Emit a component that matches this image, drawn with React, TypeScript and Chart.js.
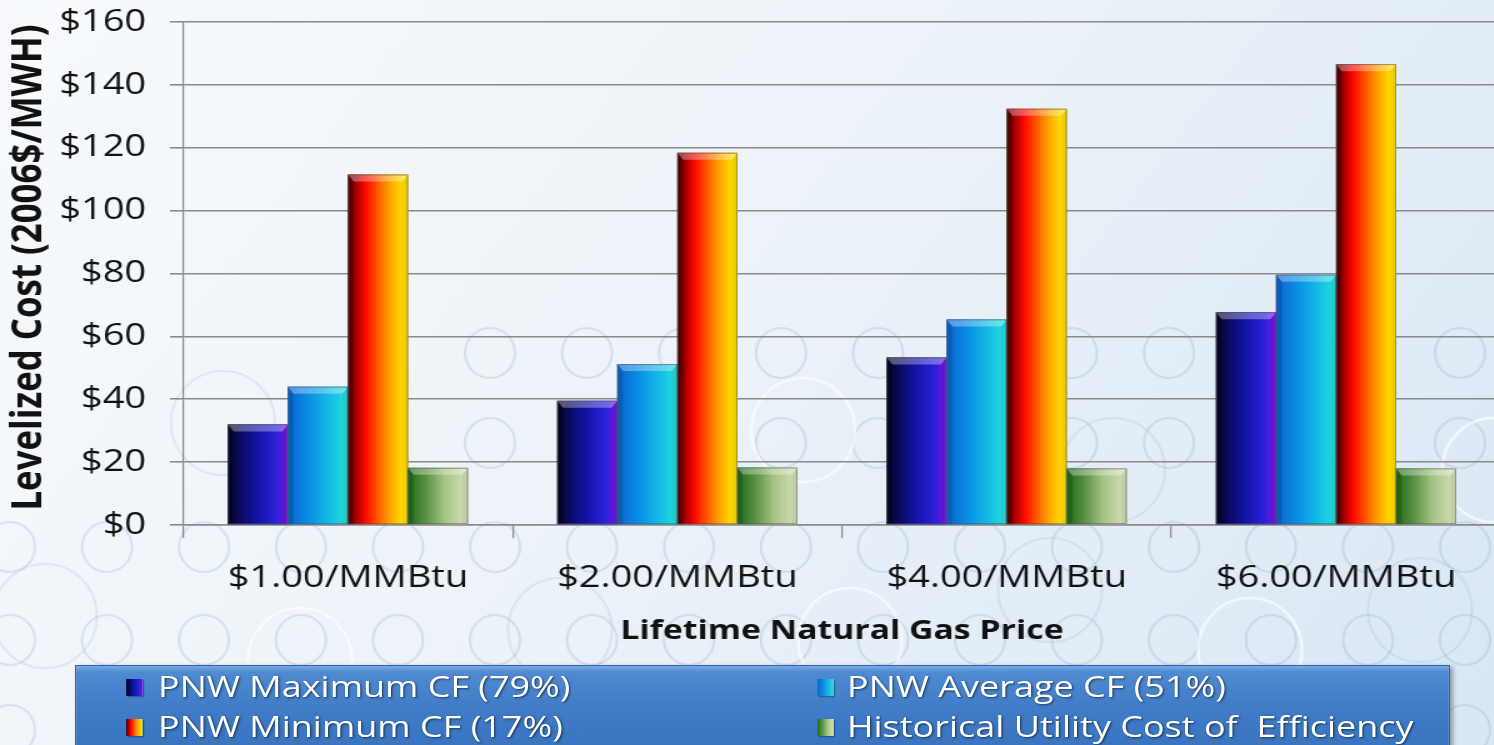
import { useEffect, useRef } from 'react';
import { Chart, registerables } from 'chart.js';

Chart.register(...registerables);

// ---- data ----
const categories = ['$1.00/MMBtu', '$2.00/MMBtu', '$4.00/MMBtu', '$6.00/MMBtu'];
const maxCfCost = [32, 39.5, 53.3, 67.7];
const avgCfCost = [44, 51.2, 65.4, 79.6];
const minCfCost = [111.5, 118.4, 132.4, 146.6];
const efficiencyCost = [18.2, 18.3, 18, 18];
const seriesNames = [
  'PNW Maximum CF (79%)',
  'PNW Average CF (51%)',
  'PNW Minimum CF (17%)',
  'Historical Utility Cost of  Efficiency',
];
const yTickValues = [0, 20, 40, 60, 80, 100, 120, 140, 160];
const yAxisTitle = 'Levelized Cost (2006$/MWH)';
const xAxisTitle = 'Lifetime Natural Gas Price';

// ---- styling ----
const STRETCH = 1.25; // the slide is drawn wide: everything is scaled horizontally
const W = 1212;
const H = 745;
const FONT = "'Open Sans', 'Noto Sans', sans-serif";
const GRID = '#8a8a8a';

const barStops: [number, string][][] = [
  [[0, '#03031a'], [0.2, '#0a0a5e'], [0.5, '#1414a8'], [0.8, '#2a22d8'], [1, '#8412e6']],
  [[0, '#0a64d0'], [0.35, '#0a8ee4'], [0.7, '#14bce4'], [1, '#26e2dc']],
  [[0, '#3c0000'], [0.15, '#b00000'], [0.3, '#ff0a00'], [0.5, '#ff5a00'], [0.7, '#ffa400'], [0.88, '#ffd400'], [1, '#ffe800']],
  [[0, '#1c6a18'], [0.3, '#5a9244'], [0.6, '#a4c284'], [1, '#d6e2bc']],
];
const solidColors = ['#1414a8', '#0a8ee4', '#ff5a00', '#a4c284'];

function cssGradient(stops: [number, string][]) {
  return `linear-gradient(to right, ${stops.map(([o, c]) => `${c} ${o * 100}%`).join(', ')})`;
}

// light backdrop with faint rings
const backdrop = {
  id: 'backdrop',
  beforeDraw(chart: any) {
    const { ctx, width, height } = chart;
    ctx.save();
    const g = ctx.createLinearGradient(0, 0, width, height);
    g.addColorStop(0, '#f8fafc');
    g.addColorStop(0.45, '#edf3f9');
    g.addColorStop(1, '#d8e7f4');
    ctx.fillStyle = g;
    ctx.fillRect(0, 0, width, height);

    const ring = (cx: number, cy: number, r: number, color: string, lw: number) => {
      ctx.beginPath();
      ctx.ellipse(cx / STRETCH, cy, r / STRETCH, r, 0, 0, Math.PI * 2);
      ctx.strokeStyle = color;
      ctx.lineWidth = lw;
      ctx.stroke();
    };
    const small = 'rgba(125,160,195,0.22)';
    for (let cx = 490; cx < 1540; cx += 97) {
      ring(cx, 353, 25, small, 2);
      ring(cx, 443, 25, small, 2);
    }
    for (let cx = 10; cx < 1540; cx += 97) {
      ring(cx, 547, 25, small, 2);
      ring(cx, 640, 25, small, 2);
      ring(cx, 730, 25, small, 2);
    }
    const big = 'rgba(255,255,255,0.6)';
    const bigSoft = 'rgba(140,170,200,0.18)';
    [
      [223, 423], [803, 430], [1113, 470], [1494, 470], [45, 616], [300, 660],
      [560, 630], [850, 640], [1050, 590], [1250, 650], [1420, 610],
    ].forEach(([cx, cy], i) => ring(cx, cy, 52, i % 2 ? big : bigSoft, i % 2 ? 2.5 : 2));
    ctx.restore();
  },
};

// shaded, bevelled bar faces painted over each bar element
const bevelBars = {
  id: 'bevelBars',
  afterDatasetsDraw(chart: any) {
    const ctx = chart.ctx;
    ctx.save();
    chart.data.datasets.forEach((_ds: any, di: number) => {
      const meta = chart.getDatasetMeta(di);
      meta.data.forEach((el: any) => {
        const { x, y, base, width } = el.getProps(['x', 'y', 'base', 'width'], true);
        const left = x - width / 2;
        const right = x + width / 2;
        const top = Math.min(y, base);
        const bottom = Math.max(y, base);
        const g = ctx.createLinearGradient(left, 0, right, 0);
        barStops[di].forEach(([o, c]) => g.addColorStop(o, c));
        ctx.fillStyle = g;
        ctx.fillRect(left, top, right - left, bottom - top);

        const bev = 7;
        const inset = 4.5;
        ctx.beginPath();
        ctx.moveTo(left, top);
        ctx.lineTo(right, top);
        ctx.lineTo(right - inset, top + bev);
        ctx.lineTo(left + inset, top + bev);
        ctx.closePath();
        ctx.fillStyle = 'rgba(255,255,255,0.32)';
        ctx.fill();

        ctx.beginPath();
        ctx.moveTo(left, top);
        ctx.lineTo(left + inset, top + bev);
        ctx.lineTo(left + inset, bottom);
        ctx.lineTo(left, bottom);
        ctx.closePath();
        ctx.fillStyle = 'rgba(0,0,0,0.12)';
        ctx.fill();

        ctx.beginPath();
        ctx.moveTo(right, top);
        ctx.lineTo(right - inset, top + bev);
        ctx.lineTo(right - inset, bottom);
        ctx.lineTo(right, bottom);
        ctx.closePath();
        ctx.fillStyle = 'rgba(0,0,0,0.06)';
        ctx.fill();

        ctx.strokeStyle = 'rgba(85,85,85,0.55)';
        ctx.lineWidth = 1;
        ctx.strokeRect(left + 0.5, top + 0.5, right - left - 1, bottom - top - 1);
      });
    });
    ctx.restore();
  },
};

// vertical value-axis title, centred on the labelled span
const valueAxisTitle = {
  id: 'valueAxisTitle',
  afterDraw(chart: any) {
    const ctx = chart.ctx;
    ctx.save();
    ctx.translate(22.6, 267.5);
    ctx.rotate(-Math.PI / 2);
    ctx.font = `bold 34.8px ${FONT}`;
    ctx.fillStyle = '#111';
    ctx.textAlign = 'center';
    ctx.textBaseline = 'middle';
    ctx.fillText(yAxisTitle, 0, 0);
    ctx.restore();
  },
};

export default function App() {
  const canvasRef = useRef<HTMLCanvasElement | null>(null);

  useEffect(() => {
    const canvas = canvasRef.current;
    if (!canvas) return;
    const series = [maxCfCost, avgCfCost, minCfCost, efficiencyCost];
    const chart = new Chart(canvas, {
      type: 'bar',
      data: {
        labels: categories,
        datasets: series.map((values, i) => ({
          label: seriesNames[i],
          data: values,
          backgroundColor: solidColors[i],
          borderWidth: 0,
          categoryPercentage: 0.729,
          barPercentage: 1,
        })),
      },
      options: {
        animation: false,
        responsive: false,
        devicePixelRatio: 1,
        layout: { padding: { left: 0, right: 11.4, top: 22, bottom: 80 } },
        plugins: { legend: { display: false }, tooltip: { enabled: false } },
        scales: {
          x: {
            offset: true,
            grid: {
              offset: true,
              drawOnChartArea: false,
              drawTicks: true,
              tickLength: 13,
              color: GRID,
              lineWidth: 1.2,
            },
            border: { display: true, color: GRID, width: 1.6 },
            ticks: {
              color: '#111',
              font: { family: FONT, size: 30.4 },
              padding: 22,
              maxRotation: 0,
              autoSkip: false,
            },
            title: {
              display: true,
              text: xAxisTitle,
              color: '#111',
              font: { family: FONT, size: 27, weight: 'bold' },
              padding: { top: 0, bottom: 17 },
            },
            afterFit: (s: any) => {
              s.height = 140;
              s.paddingLeft = 0;
              s.paddingRight = 0;
            },
          },
          y: {
            min: 0,
            max: 160,
            afterBuildTicks: (s: any) => {
              s.ticks = yTickValues.map((v) => ({ value: v }));
            },
            ticks: {
              color: '#111',
              font: { family: FONT, size: 30.4 },
              padding: 19,
              callback: (v: any) => '$' + v,
            },
            grid: { color: GRID, lineWidth: 1.6, drawTicks: true, tickLength: 10.6 },
            border: { display: true, color: GRID, width: 1.2 },
            title: { display: false, text: yAxisTitle },
            afterFit: (s: any) => {
              s.width = 146.6;
              s.paddingTop = 0;
              s.paddingBottom = 0;
            },
          },
        },
      } as any,
      plugins: [backdrop, bevelBars, valueAxisTitle],
    });
    return () => chart.destroy();
  }, []);

  const rows = [686, 726];
  const cols = [
    { sw: 126 / STRETCH, tx: 158 / STRETCH },
    { sw: 817 / STRETCH, tx: 847 / STRETCH },
  ];
  const boxLeft = 75 / STRETCH;
  const boxTop = 665;

  return (
    <div style={{ position: 'fixed', left: 0, top: 0, width: 1494, height: H, overflow: 'hidden' }}>
      <div
        style={{
          position: 'absolute',
          left: 0,
          top: 0,
          width: W,
          height: H,
          transform: `scaleX(${STRETCH})`,
          transformOrigin: '0 0',
        }}
      >
        <canvas ref={canvasRef} width={W} height={H} style={{ display: 'block', width: W, height: H }} />
        <div
          style={{
            position: 'absolute',
            left: boxLeft,
            top: boxTop,
            width: (1450 - 75) / STRETCH,
            height: 100,
            background: 'linear-gradient(to bottom, #79abe3 0%, #4f8bd2 6%, #3f7bc6 45%, #3571bd 100%)',
            border: '1px solid #2d64a8',
            boxShadow: '2px 2px 4px rgba(0,0,0,0.35)',
            boxSizing: 'border-box',
          }}
        />
        {seriesNames.map((name, i) => {
          const row = Math.floor(i / 2);
          const col = cols[i % 2];
          const cy = rows[row];
          return (
            <div key={name}>
              <div
                style={{
                  position: 'absolute',
                  left: col.sw,
                  top: cy - 7,
                  width: 17 / STRETCH,
                  height: 17,
                  background: cssGradient(barStops[i]),
                  boxShadow: '1px 1px 1px rgba(0,0,0,0.35)',
                }}
              />
              <div
                style={{
                  position: 'absolute',
                  left: col.tx,
                  top: cy - 17,
                  height: 34,
                  lineHeight: '34px',
                  fontFamily: FONT,
                  fontSize: 28.8,
                  color: '#ffffff',
                  whiteSpace: 'pre',
                  textShadow: '1px 1px 2px rgba(0,0,0,0.55)',
                }}
              >
                {name}
              </div>
            </div>
          );
        })}
      </div>
    </div>
  );
}
